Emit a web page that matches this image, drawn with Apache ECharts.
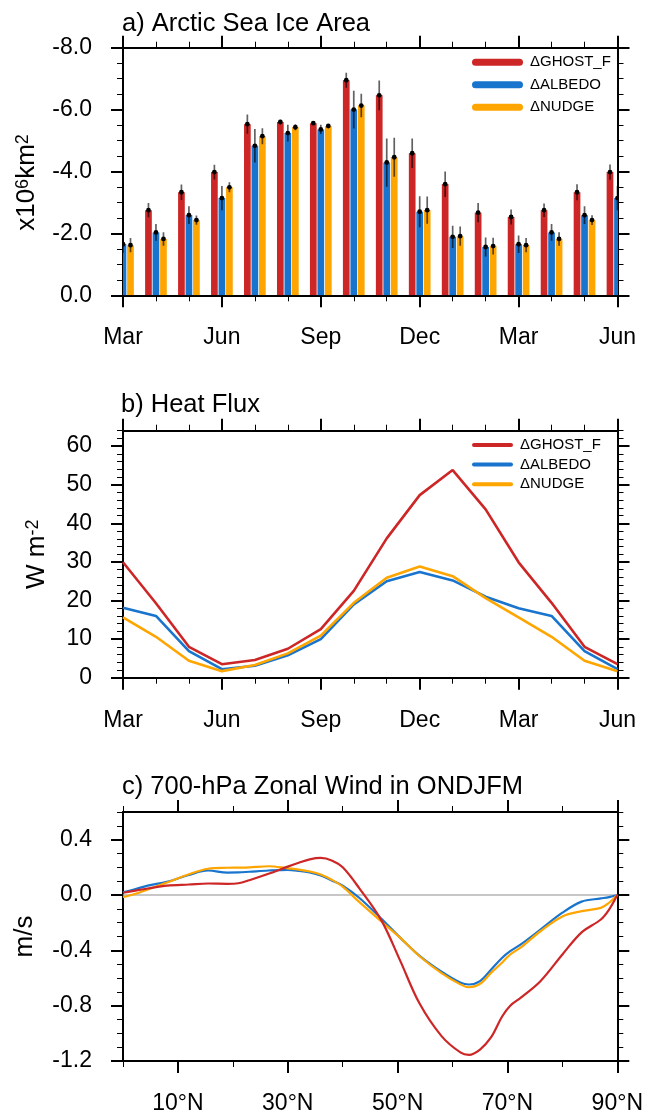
<!DOCTYPE html>
<html>
<head>
<meta charset="utf-8">
<script src="https://cdn.jsdelivr.net/npm/echarts@6/dist/echarts.min.js"></script>
<style>html,body{margin:0;padding:0;background:#fff}#c{width:646px;height:1115px}</style>
</head>
<body>
<div id="c"></div>
<script>
// ---------------- data ----------------
const seriesNames = ['\u0394GHOST_F', '\u0394ALBEDO', '\u0394NUDGE'];
const months = ['Mar','Apr','May','Jun','Jul','Aug','Sep','Oct','Nov','Dec','Jan','Feb','Mar','Apr','May','Jun'];
const monthTicks = [0, 3, 6, 9, 12, 15];

// a) Arctic sea ice area (x10^6 km^2)
const iceGhost  = [-2.53,-2.75,-3.33,-3.98,-5.53,-5.60,-5.56,-6.95,-6.46,-4.59,-3.59,-2.67,-2.53,-2.75,-3.33,-3.98];
const iceAlbedo = [-1.65,-2.03,-2.59,-3.14,-4.83,-5.24,-5.36,-6.00,-4.29,-2.70,-1.89,-1.56,-1.65,-2.03,-2.59,-3.14];
const iceNudge  = [-1.62,-1.82,-2.43,-3.49,-5.14,-5.43,-5.47,-6.13,-4.46,-2.75,-1.91,-1.59,-1.62,-1.82,-2.43,-3.49];
const errGhost  = [0.24,0.23,0.25,0.24,0.31,0.07,0.04,0.24,0.48,0.48,0.41,0.31,0.24,0.22,0.26,0.25];
const errAlbedo = [0.28,0.27,0.29,0.39,0.54,0.27,0.15,0.61,0.78,0.50,0.36,0.31,0.28,0.27,0.29,0.39];
const errNudge  = [0.23,0.22,0.15,0.16,0.26,0.10,0.06,0.38,0.63,0.44,0.31,0.27,0.23,0.22,0.16,0.16];
const iceTicks = [-8, -6, -4, -2, 0];

// b) Heat flux (W m^-2)
const fluxGhost  = [29.9,19.3,8.0,3.5,4.6,7.5,12.6,22.5,36.1,47.3,53.8,43.6,29.9,19.4,8.0,3.5];
const fluxAlbedo = [18.1,16.0,6.9,2.2,3.1,5.8,10.0,19.0,25.0,27.4,25.2,21.0,18.0,16.0,6.9,2.2];
const fluxNudge  = [15.6,10.6,4.4,1.7,3.3,6.3,10.9,19.4,25.9,28.8,26.3,20.6,15.6,10.6,4.4,1.7];
const fluxTicks = [0, 10, 20, 30, 40, 50, 60];

// c) 700-hPa zonal wind in ONDJFM (m/s)
const lats       = [0, 2, 4.5, 8, 12, 15.5, 19, 21, 23, 26.5, 30, 32, 34, 36, 38, 40, 43, 47, 50.5, 54, 58, 61.5, 63, 65, 67, 69, 70.5, 72.5, 76, 80, 83.5, 87, 88.5, 90];
const windGhost  = [0.016,0.03,0.047,0.068,0.076,0.083,0.081,0.085,0.107,0.153,0.205,0.233,0.258,0.268,0.25,0.2,0.05,-0.18,-0.478,-0.785,-1.02,-1.14,-1.155,-1.117,-1.03,-0.88,-0.8,-0.74,-0.623,-0.43,-0.27,-0.177,-0.105,0];
const windAlbedo = [0.02,0.04,0.068,0.095,0.145,0.177,0.162,0.163,0.168,0.177,0.182,0.175,0.163,0.141,0.105,0.068,-0.02,-0.17,-0.31,-0.44,-0.555,-0.635,-0.647,-0.623,-0.54,-0.455,-0.406,-0.355,-0.25,-0.128,-0.048,-0.025,-0.015,0];
const windNudge  = [-0.016,0.005,0.04,0.09,0.15,0.19,0.197,0.198,0.2,0.208,0.193,0.184,0.17,0.148,0.11,0.06,-0.05,-0.19,-0.31,-0.443,-0.565,-0.648,-0.667,-0.643,-0.563,-0.49,-0.43,-0.377,-0.262,-0.155,-0.117,-0.093,-0.056,0];
const windTicks = [-1.2, -0.8, -0.4, 0, 0.4];
const latTicks = [10, 30, 50, 70, 90];

// ---------------- style ----------------
const FONT = 'Liberation Sans';
const COLORS = ['#cd2626', '#1874cd', '#ffa500'];
const BAR_W = 6.7, BAR_GAP = 0.12;
const TICK_FS = 23;

const iceData = [iceGhost, iceAlbedo, iceNudge];
const errData = [errGhost, errAlbedo, errNudge];
const fluxData = [fluxGhost, fluxAlbedo, fluxNudge];
const windData = [windGhost, windAlbedo, windNudge];

const grids = [
  {left: 123, top: 47.7, width: 494.5, height: 247.6},
  {left: 123, top: 430.7, width: 494.5, height: 247},
  {left: 123, top: 812, width: 494.5, height: 249}
];

const xAxes = [], yAxes = [];
function addSide(list, grid, pos, min, max, majorVals, minorStep, extra, label, nameOpt) {
  const idx = list.length;
  const major = Object.assign({
    type: 'value', gridIndex: grid, position: pos, min: min, max: max,
    axisLine: {show: true, onZero: false, lineStyle: {color: '#000', width: 2}},
    axisTick: {show: true, inside: false, customValues: majorVals, length: 12, lineStyle: {color: '#000', width: 2}},
    axisLabel: label ? Object.assign({show: true, customValues: majorVals, color: '#000', fontSize: TICK_FS, fontFamily: FONT}, label) : {show: false},
    splitLine: {show: false}
  }, extra || {}, nameOpt || {});
  list.push(major);
  list.push(Object.assign({
    type: 'value', gridIndex: grid, position: pos, min: min, max: max, interval: minorStep,
    axisLine: {show: false, onZero: false},
    axisTick: {show: true, inside: false, length: 6, lineStyle: {color: '#000', width: 1}},
    axisLabel: {show: false},
    splitLine: {show: false}
  }, extra || {}));
  return idx;
}
function nameStyle(pad) {
  return {
    color: '#000', fontSize: 26, fontFamily: FONT, padding: pad,
    rich: {n: {fontSize: 26, fontFamily: FONT, color: '#000'}, s: {fontSize: 18, fontFamily: FONT, color: '#000', verticalAlign: 'top'}}
  };
}
const monthFmt = v => months[v];

// grid 0
const xa = addSide(xAxes, 0, 'bottom', 0, 15, monthTicks, 1, null, {formatter: monthFmt, margin: 31});
addSide(xAxes, 0, 'top', 0, 15, monthTicks, 1);
const ya = addSide(yAxes, 0, 'left', -8, 0, iceTicks, 0.5, {inverse: true}, {formatter: v => v.toFixed(1), margin: 31},
  {name: '{n|x10}{s|6}{n|km}{s|2}', nameLocation: 'middle', nameGap: 83, nameRotate: 90, nameTextStyle: nameStyle([0, 22, 0, 0])});
addSide(yAxes, 0, 'right', -8, 0, iceTicks, 0.5, {inverse: true});

// grid 1
const xb = addSide(xAxes, 1, 'bottom', 0, 15, monthTicks, 1, null, {formatter: monthFmt, margin: 31});
addSide(xAxes, 1, 'top', 0, 15, monthTicks, 1);
const yb = addSide(yAxes, 1, 'left', 0, 64, fluxTicks, 2, null, {formatter: v => String(v), margin: 31},
  {name: '{n|W m}{s|-2}', nameLocation: 'middle', nameGap: 73, nameRotate: 90, nameTextStyle: nameStyle(0)});
addSide(yAxes, 1, 'right', 0, 64, fluxTicks, 2);

// grid 2
const xc = addSide(xAxes, 2, 'bottom', 0, 90, latTicks, 10, null, {formatter: v => v + '\u00B0N', margin: 31});
addSide(xAxes, 2, 'top', 0, 90, latTicks, 10);
const yc = addSide(yAxes, 2, 'left', -1.2, 0.6, windTicks, 0.1, null, {formatter: v => v.toFixed(1), margin: 31},
  {name: 'm/s', nameLocation: 'middle', nameGap: 85, nameRotate: 90, nameTextStyle: nameStyle(0)});
addSide(yAxes, 2, 'right', -1.2, 0.6, windTicks, 0.1);

const series = [];
// bars with error bars (custom series, clipped to the plot area)
seriesNames.forEach((nm, i) => {
  const dx = (i - 1) * BAR_W * (1 + BAR_GAP);
  series.push({
    type: 'custom', name: nm, xAxisIndex: xa, yAxisIndex: ya, clip: true, z: 2 + i,
    itemStyle: {color: COLORS[i]},
    data: iceData[i].map((v, k) => [k, v, errData[i][k]]),
    encode: {x: 0, y: 1},
    renderItem: (p, api) => {
      const x = api.value(0), y = api.value(1), e = api.value(2);
      const c = api.coord([x, y]), base = api.coord([x, 0]);
      const a = api.coord([x, y - e]), b = api.coord([x, y + e]);
      const cx = c[0] + dx;
      return {type: 'group', children: [
        {type: 'rect', shape: {x: cx - BAR_W / 2, y: Math.min(c[1], base[1]), width: BAR_W, height: Math.abs(base[1] - c[1])},
         style: {fill: COLORS[i]}},
        {type: 'line', shape: {x1: cx, y1: a[1], x2: cx, y2: b[1]}, style: {stroke: 'rgba(0,0,0,0.62)', lineWidth: 1.7}},
        {type: 'circle', shape: {cx: cx, cy: c[1], r: 2.4}, style: {fill: '#000'}}
      ]};
    }
  });
});
// heat flux lines (draw blue, orange, then red on top)
const drawOrder = [1, 2, 0];
drawOrder.forEach((i, o) => {
  series.push({
    type: 'line', name: seriesNames[i], xAxisIndex: xb, yAxisIndex: yb,
    data: fluxData[i].map((v, k) => [k, v]),
    showSymbol: false, symbol: 'none', z: 10 + o,
    lineStyle: {color: COLORS[i], width: 2.6}, itemStyle: {color: COLORS[i]}
  });
});
// wind lines
drawOrder.forEach((i, o) => {
  const s = {
    type: 'line', name: seriesNames[i], xAxisIndex: xc, yAxisIndex: yc,
    data: lats.map((l, k) => [l, windData[i][k]]),
    showSymbol: false, symbol: 'none', smooth: 0.35, z: 10 + o,
    lineStyle: {color: COLORS[i], width: 2.2}, itemStyle: {color: COLORS[i]}
  };
  if (o === 0) {
    s.markLine = {silent: true, symbol: ['none', 'none'], z: 2, label: {show: false},
      lineStyle: {color: '#b4b4b4', type: 'solid', width: 1.5}, data: [{yAxis: 0}]};
  }
  series.push(s);
});

const legendText = {color: '#000', fontSize: 15, fontFamily: FONT, lineHeight: 16, padding: [0, 0, 0, 2]};
const option = {
  animation: false,
  backgroundColor: '#fff',
  textStyle: {fontFamily: FONT},
  title: [
    {text: 'a) Arctic Sea Ice Area', left: 122, top: 10.5, padding: 0, textStyle: {fontSize: 25.5, fontWeight: 'normal', color: '#000', fontFamily: FONT}},
    {text: 'b) Heat Flux', left: 121, top: 392, padding: 0, textStyle: {fontSize: 25.5, fontWeight: 'normal', color: '#000', fontFamily: FONT}},
    {text: 'c) 700-hPa Zonal Wind in ONDJFM', left: 122, top: 774, padding: 0, textStyle: {fontSize: 25.5, fontWeight: 'normal', color: '#000', fontFamily: FONT}}
  ],
  legend: [
    {data: seriesNames, orient: 'vertical', left: 472, top: 54.3, padding: 0, itemWidth: 51, itemHeight: 7, itemGap: 6.5,
     icon: 'path://M3.5,0H47.5A3.5,3.5,0,0,1,47.5,7H3.5A3.5,3.5,0,0,1,3.5,0Z', selectedMode: false, textStyle: legendText},
    {data: seriesNames, orient: 'vertical', left: 472, top: 437, padding: 0, itemWidth: 41, itemHeight: 4, itemGap: 3.6,
     icon: 'path://M2,0H39A2,2,0,0,1,39,4H2A2,2,0,0,1,2,0Z', selectedMode: false, textStyle: legendText}
  ],
  grid: grids,
  xAxis: xAxes,
  yAxis: yAxes,
  series: series
};
const chart = echarts.init(document.getElementById('c'), null, {renderer: 'canvas'});
chart.setOption(option);
</script>
</body>
</html>
